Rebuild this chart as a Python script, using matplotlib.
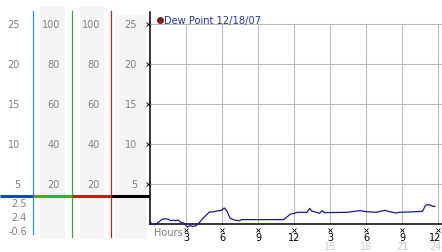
import matplotlib
matplotlib.use("Agg")
import matplotlib.pyplot as plt

# ------------------------------------------------------------
# data
# ------------------------------------------------------------
hours = [0.0, 0.15, 0.42, 0.69, 0.97, 1.24, 1.52, 1.74, 1.93, 2.12, 2.34, 2.56,
         2.84, 3.11, 3.3, 3.58, 3.85, 4.13, 4.4, 4.68, 4.95, 5.23, 5.5, 5.92,
         6.19, 6.41, 6.69, 7.02, 7.43, 7.62, 11.14, 11.55, 11.71, 11.96, 12.27,
         13.09, 13.3, 13.5, 13.9, 14.13, 14.33, 14.54, 16.39, 17.49, 18.04,
         18.86, 19.55, 19.96, 20.51, 20.78, 22.16, 22.7, 22.98, 23.26, 23.59, 23.75]
dew_point = [0.3, 0.0, -0.1, 0.2, 0.55, 0.66, 0.6, 0.4, 0.5, 0.4, 0.5, 0.2,
             0.1, -0.4, -0.2, -0.3, -0.2, 0.2, 0.7, 1.1, 1.5, 1.5, 1.6, 1.7,
             2.0, 1.6, 0.7, 0.5, 0.4, 0.55, 0.55, 1.05, 1.25, 1.3, 1.46,
             1.46, 1.96, 1.6, 1.46, 1.33, 1.67, 1.42, 1.46, 1.67, 1.54,
             1.46, 1.71, 1.54, 1.37, 1.46, 1.54, 1.58, 2.37, 2.42, 2.2, 2.2]

legend_label = "Dew Point 12/18/07"

hour_ticks = [3, 6, 9, 12, 15, 18, 21, 24]
hour_labels = ["3", "6", "9", "12", "3", "6", "9", "12"]
hour24_labels = ["", "", "", "", "15", "18", "21", "24"]
y_ticks = [5, 10, 15, 20, 25]

# left scale panel columns
col_temp = ["5", "10", "15", "20", "25"]
col_hum = ["20", "40", "60", "80", "100"]
col_hum2 = ["20", "40", "60", "80", "100"]
col_temp2 = ["5", "10", "15", "20", "25"]
summary_vals = ["2.5", "2.4", "-0.6"]

# ------------------------------------------------------------
# figure geometry (pixels): 0 of value axis at y=225, 8 px / unit
# ------------------------------------------------------------
W, H = 442, 253
PX_PER_UNIT = 8.0
ZERO_Y = 225.0
v_bottom = (ZERO_Y - H) / PX_PER_UNIT
v_top = ZERO_Y / PX_PER_UNIT

X0 = 150.0
PX_PER_HOUR = 12.0
h_right = (W - X0) / PX_PER_HOUR

fig = plt.figure(figsize=(W / 100, H / 100), dpi=100)
fig.patch.set_facecolor("white")

# ---------------- left scale panel ----------------
lp = fig.add_axes([0, 0, X0 / W, 1])
lp.set_xlim(0, X0)
lp.set_ylim(v_bottom, v_top)
lp.axis("off")


def px2v(py):
    return (ZERO_Y - py) / PX_PER_UNIT


for x1, x2, top in [(40, 65, 7), (80, 104, 7), (115, 146, 16)]:
    lp.fill_between([x1, x2], px2v(240), px2v(top), color="#f4f4f4", lw=0)

gray = "#808080"
for vals, xr in [(col_temp, 20), (col_hum, 60), (col_hum2, 100), (col_temp2, 137)]:
    for tv, lab in zip(y_ticks, vals):
        lp.text(xr, tv, lab, ha="right", va="center", fontsize=7, color=gray)

for i, lab in enumerate(summary_vals):
    lp.text(27, px2v(204 + 14 * i), lab, ha="right", va="center", fontsize=7, color=gray)

lp.plot([33, 33], [px2v(12), px2v(235)], color="#2299cc", lw=0.9)
lp.plot([72, 72], [px2v(12), px2v(238)], color="#33aa33", lw=0.9)
lp.plot([111, 111], [px2v(12), px2v(238)], color="#bb2222", lw=0.9)

bar_v = px2v(197)
lp.plot([0, 33], [bar_v, bar_v], color="#1144dd", lw=2.2, solid_capstyle="butt")
lp.plot([33, 72], [bar_v, bar_v], color="#22bb22", lw=2.2, solid_capstyle="butt")
lp.plot([72, 111], [bar_v, bar_v], color="#dd1111", lw=2.2, solid_capstyle="butt")
lp.plot([111, X0], [bar_v, bar_v], color="black", lw=2.2, solid_capstyle="butt")

# ---------------- main chart ----------------
ax = fig.add_axes([X0 / W, 0, 1 - X0 / W, 1])
ax.set_xlim(0, h_right)
ax.set_ylim(v_bottom, v_top)
ax.set_facecolor("none")
ax.set_xticks([])
ax.set_yticks([])
for s in ["top", "right"]:
    ax.spines[s].set_visible(False)
ax.spines["left"].set_position(("data", 0))
ax.spines["left"].set_bounds(0, px2v(13))
ax.spines["bottom"].set_position(("data", 0))
ax.spines["bottom"].set_bounds(0, h_right)
for s in ["left", "bottom"]:
    ax.spines[s].set_linewidth(1.1)

ax.hlines(y_ticks, 0, h_right, color="#bbbbbb", lw=0.8, zorder=1)
ax.vlines(hour_ticks, 0, px2v(25), color="#bbbbbb", lw=0.8, zorder=1)

ax.plot(hours, dew_point, color="#1a1a99", lw=0.9, zorder=3, clip_on=False)

# small x-shaped tick marks
ax.plot(hour_ticks, [-0.75] * len(hour_ticks), "x", color="black",
        ms=2.2, mew=0.6, clip_on=False)
ax.plot([-0.15] * len(y_ticks), y_ticks, "x", color="black",
        ms=2.2, mew=0.6, clip_on=False)

for h, lab, lab24 in zip(hour_ticks, hour_labels, hour24_labels):
    hx = h - 0.2 if h == hour_ticks[-1] else h
    ax.text(hx, -1.6, lab, ha="center", va="center", fontsize=7, color="black")
    ax.text(hx, -2.8, lab24, ha="center", va="center", fontsize=7, color="#cccccc")

ax.text(0.3, -0.95, "Hours", ha="left", va="center", fontsize=7, color=gray)

ax.plot([0.8], [px2v(21)], "o", color="#991111", ms=4.5, mec="#550000", mew=0.4,
        clip_on=False)
ax.text(1.2, px2v(21), legend_label, ha="left", va="center", fontsize=7.1,
        color="#2233aa")

plt.savefig("out.png", dpi=100, facecolor="white")
